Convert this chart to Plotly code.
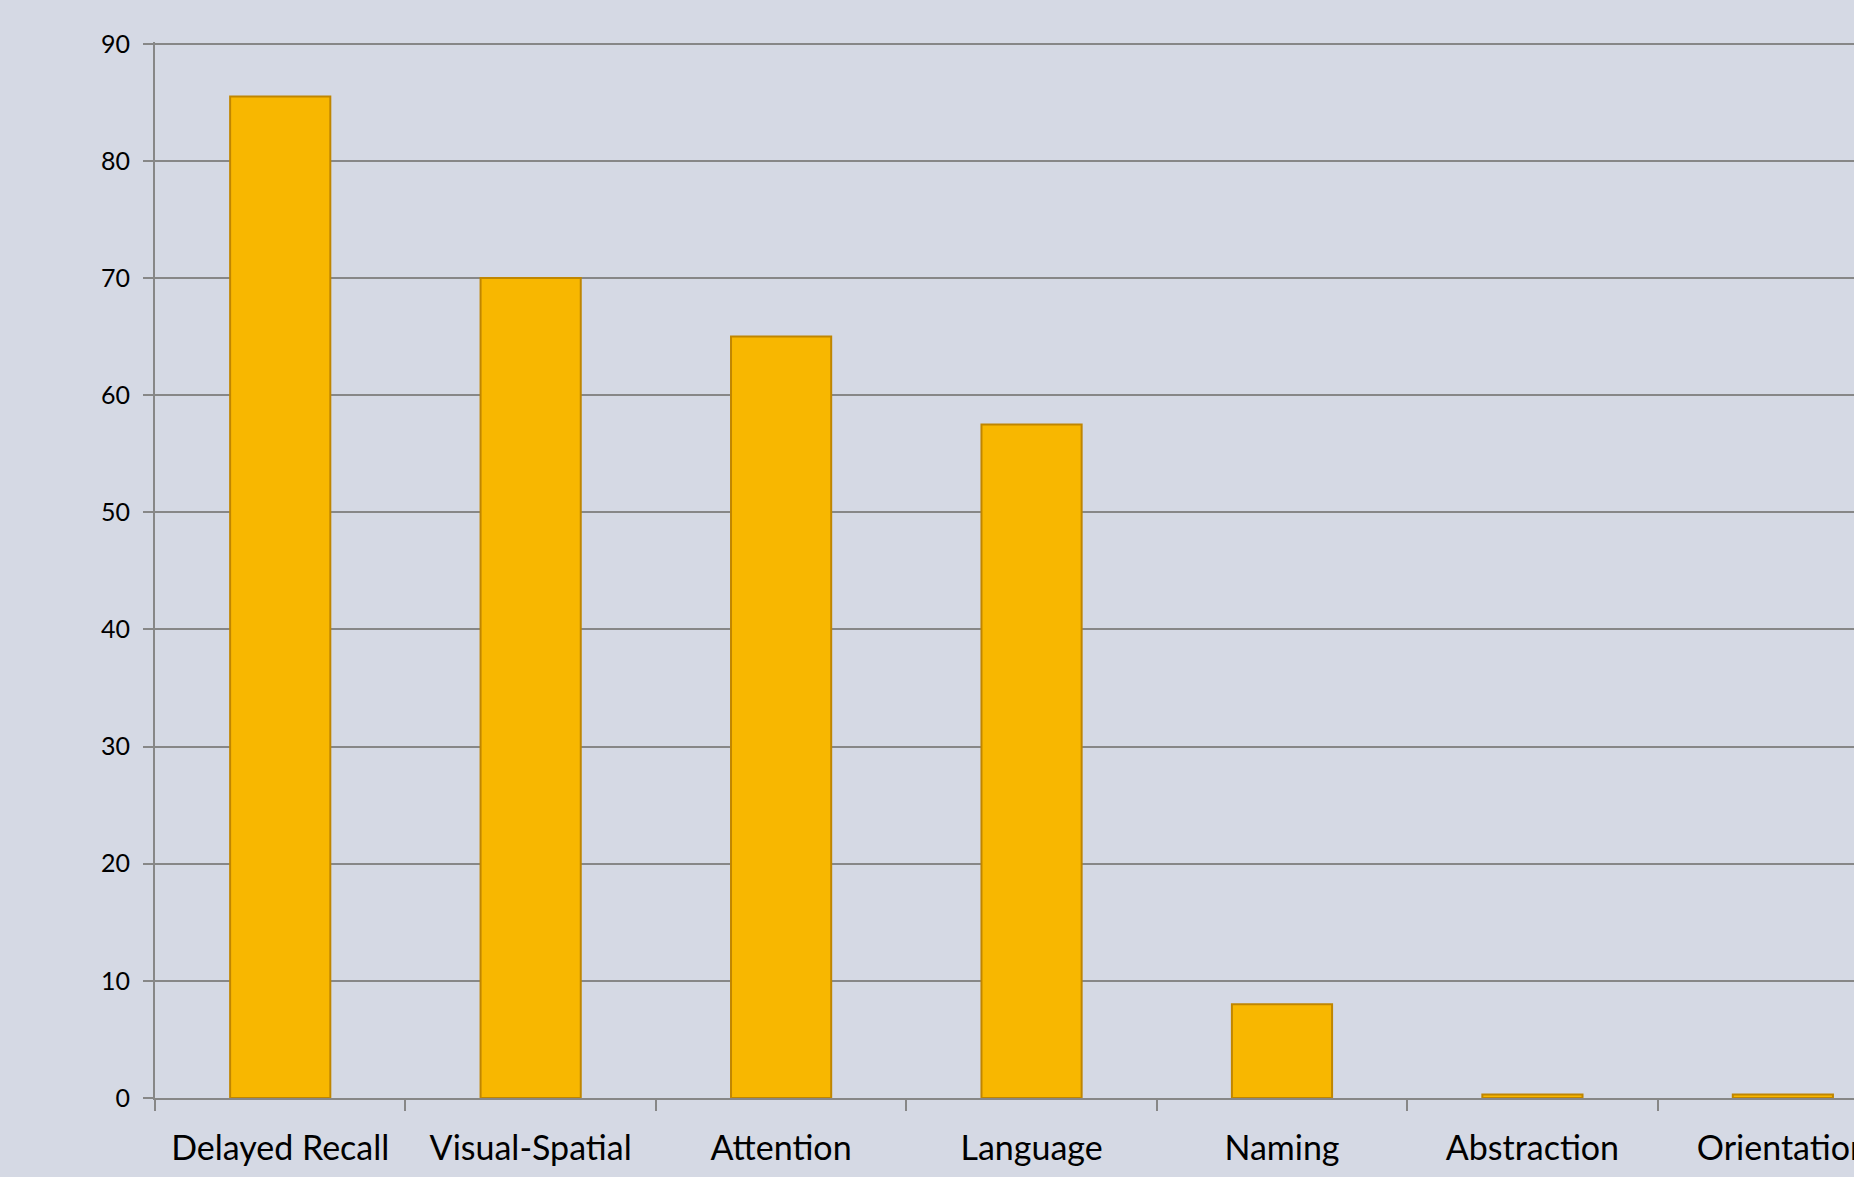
import plotly.graph_objects as go

categories = ["Delayed Recall", "Visual-Spatial", "Attention", "Language", "Naming", "Abstraction", "Orientation"]
values = [85.5, 70, 65, 57.5, 8, 0.3, 0.3]
y_ticks = [0, 10, 20, 30, 40, 50, 60, 70, 80, 90]

BG = "#D5D9E4"
GRID = "#878787"

fig = go.Figure()
fig.add_trace(go.Bar(
    x=categories,
    y=values,
    width=0.4,
    marker=dict(color="#F8B700", line=dict(color="#C08600", width=2)),
    hoverinfo="x+y",
))

fig.update_layout(
    width=1854,
    height=1177,
    paper_bgcolor=BG,
    plot_bgcolor=BG,
    margin=dict(l=155, r=0, t=42, b=79, pad=0, autoexpand=False),
    showlegend=False,
    font=dict(family="Lato, Carlito, Calibri, sans-serif", color="#000000"),
)

fig.update_xaxes(
    range=[-0.5, 6.284],
    automargin=False,
    showgrid=False,
    showline=True,
    linecolor=GRID,
    linewidth=2,
    ticks="outside",
    tickson="boundaries",
    ticklen=11,
    tickwidth=2,
    tickcolor=GRID,
    tickfont=dict(size=34),
    ticklabelstandoff=19,
    fixedrange=True,
)

fig.update_yaxes(
    range=[0, 90.15],
    automargin=False,
    tickvals=y_ticks,
    showgrid=True,
    gridcolor=GRID,
    gridwidth=2,
    showline=True,
    linecolor=GRID,
    linewidth=2,
    ticks="outside",
    ticklen=10,
    tickwidth=2,
    tickcolor=GRID,
    tickfont=dict(size=25),
    ticklabelstandoff=8,
    zeroline=False,
    fixedrange=True,
)

fig.write_html(
    "out.html",
    config={"displayModeBar": False},
    post_script="document.body.style.margin='0';document.body.style.overflow='hidden';",
)
